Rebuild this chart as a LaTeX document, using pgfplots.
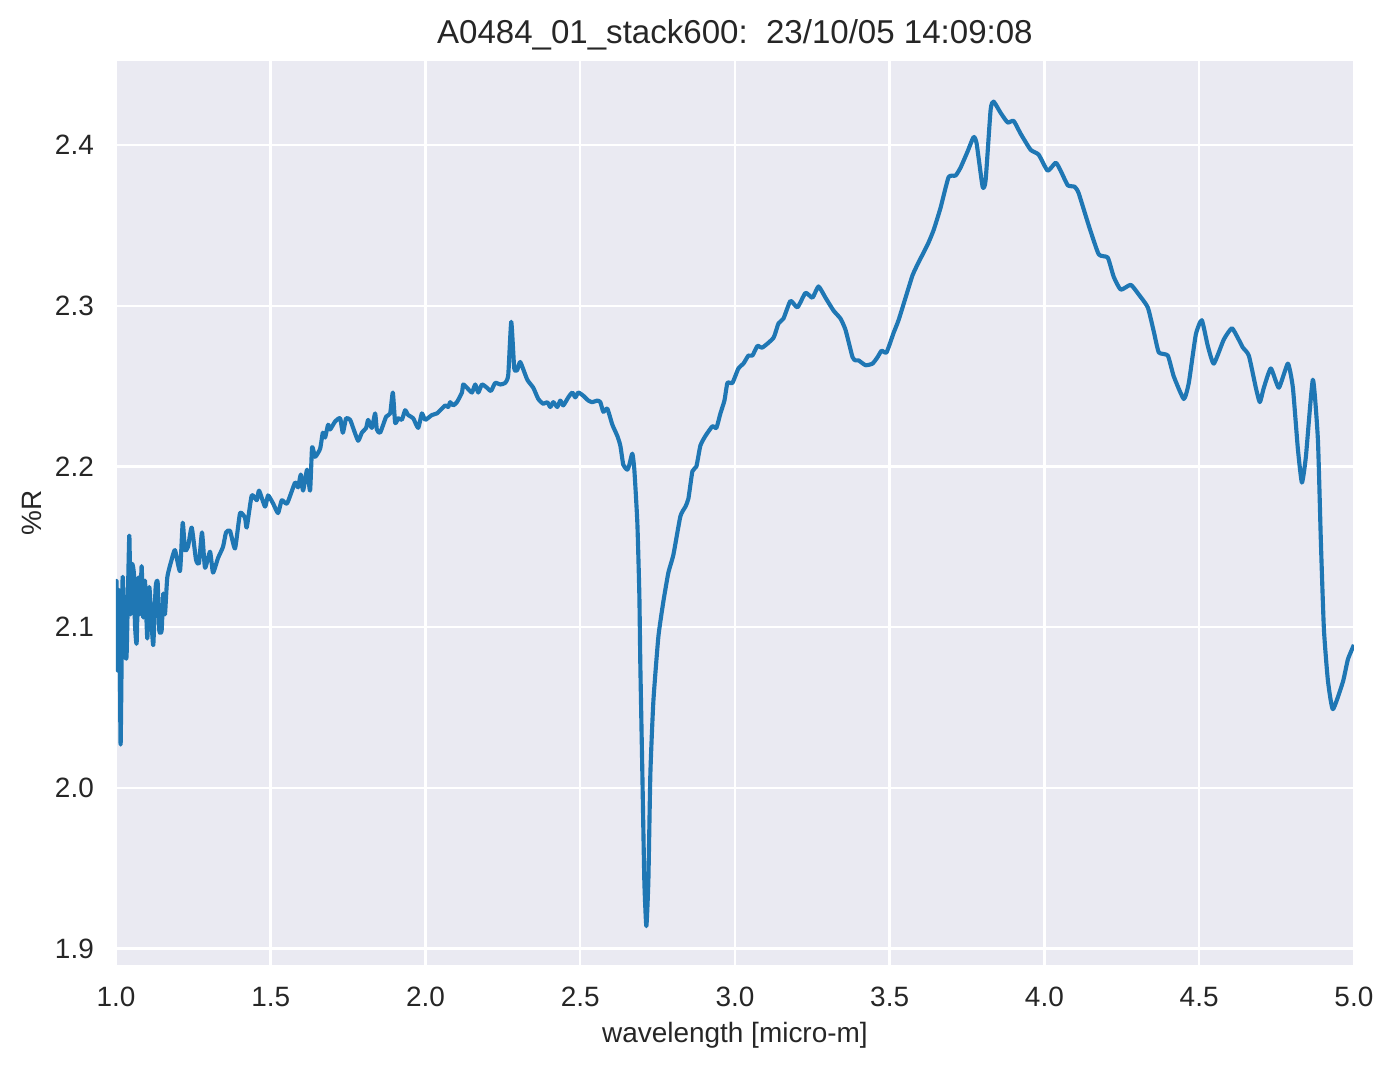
\documentclass[border=0pt]{standalone}
\usepackage{fontspec}
\setmainfont{Liberation Sans}
\usepackage{pgfplots}
\pgfplotsset{compat=1.18}
\definecolor{sbbg}{HTML}{EAEAF2}
\definecolor{sbline}{HTML}{1F77B4}
\definecolor{sbtext}{HTML}{262626}
\begin{document}
\begin{tikzpicture}
\begin{axis}[
  width=509.3pt, height=371.9pt, scale only axis,
  xmin=1, xmax=5, ymin=1.890, ymax=2.4524,
  xtick={1,1.5,...,5}, ytick={1.9,2.0,2.1,2.2,2.3,2.4},
  /pgf/number format/assume math mode=true,
  /pgf/number format/fixed, /pgf/number format/fixed zerofill, /pgf/number format/precision=1,
  every tick label/.append style={font=\fontsize{11.5}{13}\selectfont, text=sbtext, inner sep=0pt},
  x tick label style={anchor=base, yshift=-17pt},
  y tick label style={anchor=east, xshift=-8.9pt},
  major tick length=0pt,
  axis line style={draw=none},
  axis background/.style={fill=sbbg},
  grid=major,
  major grid style={white, line width=1pt},
  xlabel={wavelength [micro-m]},
  ylabel={\%R},
  x label style={at={(axis description cs:0.5,0)}, anchor=center, yshift=-28.9pt, font=\fontsize{11.5}{13}\selectfont, text=sbtext, inner sep=0pt},
  y label style={at={(axis description cs:0,0.5)}, anchor=center, yshift=34.6pt, font=\fontsize{11.5}{13}\selectfont, text=sbtext, inner sep=0pt},
  title={A0484\_01\_stack600:\ \ 23/10/05 14:09:08},
  title style={at={(axis description cs:0.5,1)}, anchor=base, yshift=1.2pt, font=\fontsize{13.6}{15}\selectfont, text=sbtext, inner sep=0pt},
  clip=true,
]
\addplot[sbline, line width=1.7pt, line join=round, smooth, tension=0.3] coordinates {
(1.0000,2.127) (1.0022,2.127) (1.0042,2.073) (1.0065,2.112) (1.0108,2.121) (1.0151,2.027) (1.0216,2.131)
(1.0291,2.086) (1.0345,2.083) (1.0431,2.157) (1.0474,2.108) (1.0517,2.139) (1.0582,2.133) (1.0614,2.102)
(1.0668,2.090) (1.0722,2.131) (1.0776,2.108) (1.0830,2.138) (1.0884,2.106) (1.0938,2.129) (1.1013,2.093)
(1.1078,2.125) (1.1153,2.102) (1.1207,2.089) (1.1283,2.125) (1.1347,2.128) (1.1401,2.098) (1.1477,2.098)
(1.1530,2.121) (1.1584,2.108) (1.1659,2.131) (1.1799,2.142) (1.1908,2.148) (1.2070,2.135) (1.2157,2.165)
(1.2231,2.148) (1.2328,2.150) (1.2448,2.162) (1.2587,2.142) (1.2684,2.140) (1.2781,2.159) (1.2878,2.137)
(1.3040,2.147) (1.3137,2.134) (1.3298,2.143) (1.3460,2.150) (1.3557,2.159) (1.3686,2.160) (1.3848,2.149)
(1.4010,2.171) (1.4171,2.168) (1.4226,2.162) (1.4388,2.182) (1.4550,2.179) (1.4624,2.185) (1.4818,2.175)
(1.4915,2.182) (1.5077,2.177) (1.5238,2.171) (1.5358,2.179) (1.5530,2.177) (1.5788,2.190) (1.5885,2.187)
(1.5973,2.195) (1.6047,2.185) (1.6176,2.198) (1.6273,2.185) (1.6338,2.212) (1.6435,2.206) (1.6597,2.211)
(1.6684,2.221) (1.6758,2.218) (1.6855,2.226) (1.6920,2.223) (1.7082,2.228) (1.7243,2.230) (1.7331,2.221)
(1.7437,2.230) (1.7567,2.229) (1.7664,2.224) (1.7825,2.216) (1.7945,2.221) (1.8084,2.224) (1.8149,2.229)
(1.8268,2.224) (1.8375,2.233) (1.8430,2.223) (1.8537,2.221) (1.8731,2.231) (1.8860,2.233) (1.8947,2.246)
(1.9022,2.227) (1.9119,2.230) (1.9238,2.229) (1.9345,2.235) (1.9442,2.232) (1.9604,2.230) (1.9766,2.224)
(1.9885,2.233) (1.9992,2.229) (2.0209,2.232) (2.0370,2.233) (2.0532,2.236) (2.0639,2.238) (2.0736,2.237)
(2.0800,2.240) (2.0897,2.238) (2.1017,2.240) (2.1179,2.246) (2.1221,2.251) (2.1341,2.249) (2.1502,2.246)
(2.1609,2.251) (2.1706,2.246) (2.1826,2.251) (2.1987,2.249) (2.2117,2.247) (2.2256,2.252) (2.2417,2.251)
(2.2579,2.252) (2.2676,2.257) (2.2773,2.290) (2.2870,2.261) (2.2967,2.260) (2.3064,2.265) (2.3290,2.254)
(2.3484,2.249) (2.3646,2.242) (2.3808,2.239) (2.3937,2.240) (2.4034,2.237) (2.4131,2.240) (2.4260,2.237)
(2.4357,2.241) (2.4454,2.238) (2.4616,2.243) (2.4745,2.246) (2.4842,2.243) (2.4939,2.246) (2.5101,2.244)
(2.5263,2.241) (2.5392,2.240) (2.5554,2.241) (2.5651,2.240) (2.5748,2.234) (2.5877,2.236) (2.6039,2.226)
(2.6200,2.219) (2.6297,2.213) (2.6394,2.201) (2.6524,2.198) (2.6588,2.201) (2.6685,2.208) (2.6750,2.198)
(2.6847,2.165) (2.6912,2.120) (2.6944,2.076) (2.7009,2.009) (2.7073,1.942) (2.7138,1.914) (2.7203,1.942)
(2.7268,2.009) (2.7365,2.054) (2.7526,2.094) (2.7688,2.116) (2.7850,2.134) (2.8011,2.145) (2.8238,2.169)
(2.8400,2.175) (2.8497,2.180) (2.8626,2.197) (2.8755,2.200) (2.8884,2.213) (2.9046,2.219) (2.9272,2.225)
(2.9402,2.224) (2.9531,2.233) (2.9661,2.241) (2.9758,2.252) (2.9919,2.252) (3.0113,2.261) (3.0275,2.264)
(3.0436,2.269) (3.0566,2.269) (3.0727,2.275) (3.0889,2.274) (3.1245,2.280) (3.1407,2.289) (3.1568,2.292)
(3.1795,2.303) (3.2021,2.299) (3.2280,2.308) (3.2506,2.305) (3.2700,2.312) (3.2926,2.305) (3.3185,2.297)
(3.3411,2.292) (3.3573,2.285) (3.3800,2.268) (3.3897,2.266) (3.3994,2.266) (3.4220,2.263) (3.4446,2.264)
(3.4608,2.268) (3.4737,2.272) (3.4899,2.271) (3.5125,2.283) (3.5287,2.291) (3.5513,2.305) (3.5740,2.319)
(3.5934,2.327) (3.6225,2.338) (3.6419,2.347) (3.6645,2.361) (3.6904,2.380) (3.7130,2.381) (3.7292,2.386)
(3.7518,2.396) (3.7712,2.405) (3.7809,2.401) (3.8003,2.374) (3.8100,2.378) (3.8262,2.422) (3.8359,2.427)
(3.8585,2.420) (3.8812,2.414) (3.9006,2.415) (3.9232,2.407) (3.9555,2.397) (3.9814,2.394) (4.0105,2.384)
(4.0364,2.389) (4.0525,2.384) (4.0752,2.375) (4.0978,2.374) (4.1107,2.370) (4.1431,2.350) (4.1754,2.332)
(4.2045,2.330) (4.2239,2.318) (4.2466,2.310) (4.2789,2.313) (4.3048,2.307) (4.3339,2.299) (4.3533,2.284)
(4.3695,2.271) (4.3986,2.269) (4.4180,2.256) (4.4503,2.242) (4.4665,2.252) (4.4891,2.282) (4.5085,2.291)
(4.5279,2.275) (4.5473,2.264) (4.5796,2.279) (4.6055,2.286) (4.6249,2.280) (4.6411,2.274) (4.6605,2.269)
(4.6831,2.249) (4.6960,2.240) (4.7090,2.249) (4.7316,2.261) (4.7575,2.249) (4.7866,2.264) (4.8028,2.249)
(4.8189,2.211) (4.8319,2.190) (4.8448,2.206) (4.8674,2.254) (4.8836,2.217) (4.8933,2.153) (4.9030,2.099)
(4.9159,2.067) (4.9321,2.049) (4.9644,2.066) (4.9806,2.080) (5.0000,2.089)
};
\coordinate (bl) at (rel axis cs:0,0);
\coordinate (tr) at (rel axis cs:1,1);
\end{axis}
\pgfresetboundingbox
\path ([xshift=-47.7pt,yshift=-42.9pt]bl) rectangle ([xshift=16.5pt,yshift=25pt]tr);
\end{tikzpicture}
\end{document}
